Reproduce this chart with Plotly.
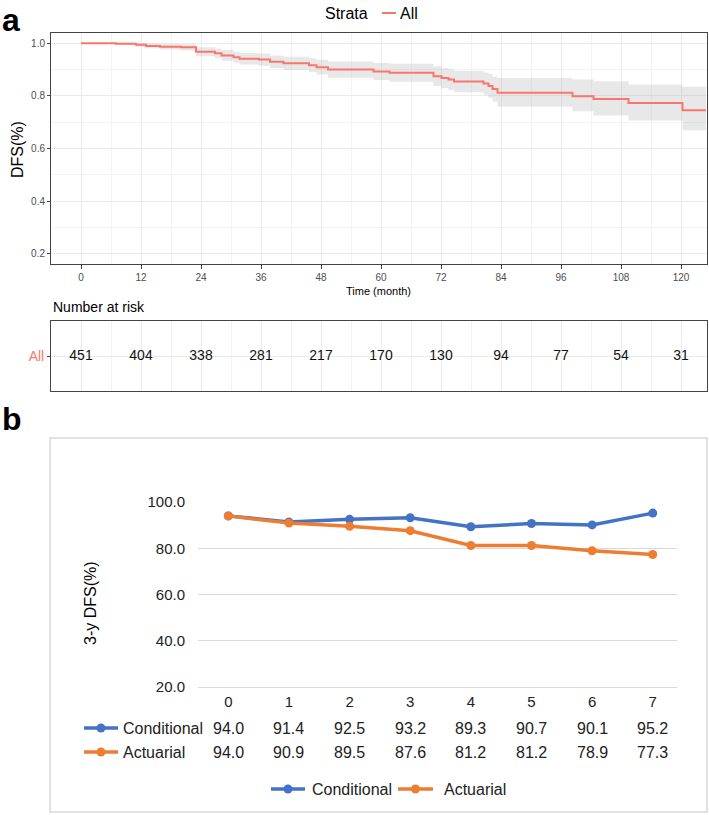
import plotly.graph_objects as go

W, H = 709, 815

# ---- panel a: Kaplan-Meier DFS ----
km_time = [0, 7, 11, 13, 15.8, 20, 23, 26.8, 28.1, 30.5, 31.7, 35.6, 37.8, 40.5, 45.6, 47.1,
           49.4, 58.5, 61.7, 70.5, 72.1, 73.5, 74.6, 80.5, 81.5, 82.3, 83.3, 98.3, 102.5,
           109.5, 120.3, 125]
km_surv = [1.000, 0.998, 0.994, 0.990, 0.987, 0.985, 0.968, 0.962, 0.954, 0.947, 0.941, 0.938,
           0.930, 0.924, 0.917, 0.909, 0.900, 0.893, 0.888, 0.875, 0.868, 0.862, 0.855, 0.847,
           0.838, 0.826, 0.812, 0.799, 0.788, 0.773, 0.746, 0.746]
km_upper = [1.000, 1.000, 1.000, 0.999, 0.997, 0.996, 0.985, 0.980, 0.974, 0.968, 0.963, 0.961,
            0.954, 0.949, 0.943, 0.937, 0.931, 0.925, 0.922, 0.912, 0.906, 0.901, 0.896, 0.889,
            0.883, 0.873, 0.868, 0.862, 0.856, 0.843, 0.835, 0.835]
km_lower = [1.000, 0.994, 0.987, 0.981, 0.976, 0.973, 0.951, 0.943, 0.934, 0.926, 0.919, 0.915,
            0.906, 0.899, 0.891, 0.881, 0.869, 0.861, 0.854, 0.838, 0.830, 0.823, 0.814, 0.805,
            0.793, 0.779, 0.759, 0.742, 0.726, 0.707, 0.670, 0.670]

risk_time = [0, 12, 24, 36, 48, 60, 72, 84, 96, 108, 120]
risk_n = [451, 404, 338, 281, 217, 170, 130, 94, 77, 54, 31]

# ---- panel b: 3-year DFS ----
years = [0, 1, 2, 3, 4, 5, 6, 7]
conditional = [94.0, 91.4, 92.5, 93.2, 89.3, 90.7, 90.1, 95.2]
actuarial = [94.0, 90.9, 89.5, 87.6, 81.2, 81.2, 78.9, 77.3]

FONT = "Liberation Sans, Arial, Helvetica, sans-serif"
RED = "#F8766D"
BLUE = "#4472C4"
ORANGE = "#ED7D31"


def px(x):
    return x / W


def py(y):
    return 1 - y / H


fig = go.Figure()

# confidence band
fig.add_trace(go.Scatter(x=km_time, y=km_upper, mode="lines", line=dict(width=0, shape="hv"),
                         showlegend=False, hoverinfo="skip", xaxis="x", yaxis="y"))
fig.add_trace(go.Scatter(x=km_time, y=km_lower, mode="lines", line=dict(width=0, shape="hv"),
                         fill="tonexty", fillcolor="rgba(185,185,185,0.32)",
                         showlegend=False, hoverinfo="skip", xaxis="x", yaxis="y"))
fig.add_trace(go.Scatter(x=km_time, y=km_surv, mode="lines", name="All",
                         line=dict(color=RED, width=2, shape="hv"),
                         showlegend=False, xaxis="x", yaxis="y"))

# number at risk
fig.add_trace(go.Scatter(x=risk_time, y=[0] * len(risk_time), mode="text",
                         text=[str(n) for n in risk_n],
                         textfont=dict(size=14, color="#111", family=FONT),
                         showlegend=False, xaxis="x2", yaxis="y2"))

# panel b lines
fig.add_trace(go.Scatter(x=years, y=conditional, mode="lines+markers", name="Conditional",
                         line=dict(color=BLUE, width=3.5), marker=dict(size=9, color=BLUE),
                         xaxis="x3", yaxis="y3"))
fig.add_trace(go.Scatter(x=years, y=actuarial, mode="lines+markers", name="Actuarial",
                         line=dict(color=ORANGE, width=3.5), marker=dict(size=9, color=ORANGE),
                         xaxis="x3", yaxis="y3"))

km_x = dict(range=[-6, 125.2], tick0=0, dtick=12, showgrid=True, gridcolor="#ebebeb",
            gridwidth=1, minor=dict(tick0=0, dtick=6, showgrid=True, gridcolor="#f3f3f3",
                                    gridwidth=0.7),
            showline=True, mirror=True, linecolor="#444", linewidth=1, zeroline=False,
            automargin=False)


def note(text, x, y, size, xanchor="center", color="black", **kw):
    return dict(text=text, x=px(x), y=py(y), xref="paper", yref="paper", xanchor=xanchor,
                yanchor="middle", showarrow=False, font=dict(size=size, color=color), **kw)


annotations = [
    note("<b>a</b>", 0, 20, 32, xanchor="left"),
    note("<b>b</b>", 0, 419, 32, xanchor="left"),
    note("Strata", 370, 13, 16, xanchor="right"),
    note("All", 398, 13, 16, xanchor="left"),
    note("DFS(%)", 17, 150, 16, textangle=-90),
    note("Time (month)", 379, 291, 11),
    note("Number at risk", 51, 307, 14, xanchor="left"),
    note("3-y DFS(%)", 90, 603, 16, textangle=-90),
    note("Conditional", 121, 728, 16, xanchor="left", color="#222"),
    note("Actuarial", 121, 752, 16, xanchor="left", color="#222"),
]

# data table under panel b
for i, yr in enumerate(years):
    for vals, ypos in ((conditional, 728), (actuarial, 752)):
        annotations.append(dict(text=f"{vals[i]:.1f}", x=yr, xref="x3", y=py(ypos), yref="paper",
                                xanchor="center", yanchor="middle", showarrow=False,
                                font=dict(size=16, color="#222")))

shapes = [
    dict(type="rect", xref="paper", yref="paper", x0=px(50), x1=px(707), y0=py(812),
         y1=py(438), line=dict(color="#d9d9d9", width=1.5)),
    dict(type="line", xref="paper", yref="paper", x0=px(382), x1=px(396), y0=py(13), y1=py(13),
         line=dict(color=RED, width=2)),
]
# legend keys: beside the data table rows and the bottom legend
keys = [(BLUE, 84, 118, 728), (ORANGE, 84, 118, 752),
        (BLUE, 271, 305, 789), (ORANGE, 398, 433, 789)]
for color, xa, xb, ypos in keys:
    shapes.append(dict(type="line", xref="paper", yref="paper", x0=px(xa), x1=px(xb),
                       y0=py(ypos), y1=py(ypos), line=dict(color=color, width=3.5)))
    shapes.append(dict(type="circle", xref="paper", yref="paper", xsizemode="pixel",
                       ysizemode="pixel", xanchor=px((xa + xb) / 2), yanchor=py(ypos),
                       x0=-4.5, x1=4.5, y0=-4.5, y1=4.5, fillcolor=color, line=dict(width=0)))
annotations.append(note("Conditional", 310, 789, 16, xanchor="left", color="#222"))
annotations.append(note("Actuarial", 442, 789, 16, xanchor="left", color="#222"))

fig.update_layout(
    width=W, height=H,
    margin=dict(l=0, r=0, t=0, b=0),
    paper_bgcolor="white", plot_bgcolor="white",
    font=dict(family=FONT, color="black"),
    showlegend=False,
    xaxis=dict(domain=[px(51), px(707)], anchor="y", ticks="outside", ticklen=4,
               tickcolor="#444", tickfont=dict(size=10, color="#4d4d4d"), **km_x),
    yaxis=dict(domain=[py(264), py(33)], anchor="x", range=[0.162, 1.039], tick0=0.2, dtick=0.2,
               tickformat=".1f", ticks="outside", ticklen=3, tickcolor="#444",
               tickfont=dict(size=10, color="#4d4d4d"), showgrid=True, gridcolor="#ebebeb",
               minor=dict(tick0=0.1, dtick=0.1, showgrid=True, gridcolor="#f3f3f3", gridwidth=0.7),
               showline=True, mirror=True, linecolor="#444", linewidth=1, zeroline=False,
               automargin=False),
    xaxis2=dict(domain=[px(51), px(707)], anchor="y2", showticklabels=False, ticks="", **km_x),
    yaxis2=dict(domain=[py(391), py(321)], anchor="x2", range=[-0.5, 0.5], tickvals=[0],
                ticktext=["All"], ticks="outside", ticklen=3, tickcolor="#444",
                tickfont=dict(size=14, color=RED), showgrid=True, gridcolor="#ebebeb",
                showline=True, mirror=True, linecolor="#444", linewidth=1, zeroline=False,
                automargin=False),
    xaxis3=dict(domain=[px(198), px(677)], anchor="y3", range=[-0.5, 7.4], tickvals=years,
                ticks="", tickfont=dict(size=15, color="#222"), ticklabelstandoff=1,
                showgrid=False, showline=True, linecolor="#d9d9d9", zeroline=False,
                automargin=False),
    yaxis3=dict(domain=[py(687), py(502)], anchor="x3", range=[20, 100], tick0=20, dtick=20,
                tickformat=".1f", ticks="", tickfont=dict(size=15, color="#222"),
                ticklabelstandoff=12, showgrid=True, gridcolor="#d9d9d9", gridwidth=1,
                showline=False, zeroline=False, automargin=False),
    annotations=annotations,
    shapes=shapes,
)

# drop the default page margin so the figure sits in the window corner
fig.write_html("out.html", config={"displayModeBar": False},
               post_script="document.body.style.margin='0';document.body.style.overflow='hidden';")
